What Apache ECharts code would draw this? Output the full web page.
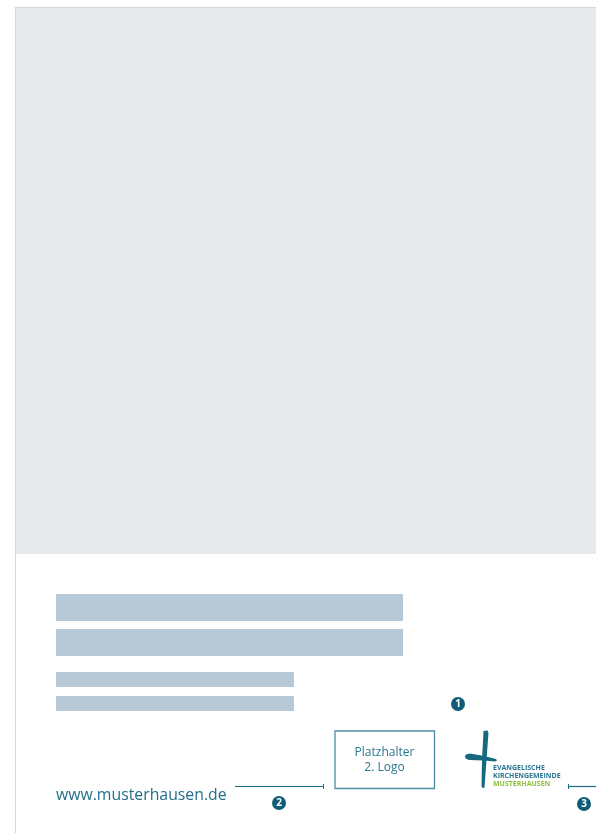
<!DOCTYPE html>
<html>
<head>
<meta charset="utf-8">
<script src="https://cdn.jsdelivr.net/npm/echarts@6/dist/echarts.min.js"></script>
<style>html,body{margin:0;padding:0;background:#fff;}#c{width:596px;height:833px;}</style>
</head>
<body>
<div id="c"></div>
<script>
// Text content of the layout
var urlText = 'www.musterhausen.de';
var placeholderLogo = ['Platzhalter', '2. Logo'];
var logoLines = ['EVANGELISCHE', 'KIRCHENGEMEINDE', 'MUSTERHAUSEN'];
var markerNumbers = ['1', '2', '3'];
var titleBars = ['Titelzeile 1', 'Titelzeile 2', 'Unterzeile 1', 'Unterzeile 2'];

var TEAL = '#1d6c86';
var TEXT_TEAL = '#2a7691';
var BAR = '#b7c9d6';
var GREEN = '#8dbf3e';
var FONT = '"Open Sans", "DejaVu Sans", sans-serif';

var chart = echarts.init(document.getElementById('c'), null, {renderer: 'canvas'});

function marker(num, cx, cy) {
  return {
    type: 'group',
    children: [
      {type: 'circle', shape: {cx: cx, cy: cy, r: 7}, style: {fill: '#0f5d78'}},
      {type: 'text', x: cx, y: cy + 0.5, style: {text: num, fill: '#fff', font: 'bold 10px ' + FONT, align: 'center', verticalAlign: 'middle'}}
    ]
  };
}

var barGeom = [
  [56, 594, 347, 27],
  [56, 629, 347, 27],
  [56, 672, 238, 15],
  [56, 696, 238, 15]
];

var elements = [
  {type: 'rect', shape: {x: 0, y: 0, width: 596, height: 833}, style: {fill: '#ffffff'}},
  {type: 'rect', shape: {x: 16, y: 8, width: 580, height: 546}, style: {fill: '#e8e9eb'}},
  {type: 'line', shape: {x1: 16, y1: 7.5, x2: 596, y2: 7.5}, style: {stroke: '#d6d6d6', lineWidth: 1}},
  {type: 'line', shape: {x1: 15.5, y1: 7, x2: 15.5, y2: 833}, style: {stroke: '#d6d6d6', lineWidth: 1}}
];

titleBars.forEach(function (name, i) {
  var g = barGeom[i];
  elements.push({type: 'rect', shape: {x: g[0], y: g[1], width: g[2], height: g[3]}, style: {fill: BAR}});
});

// URL
elements.push({type: 'text', x: 56, y: 795, style: {text: urlText, fill: '#236f8b', font: '15.8px ' + FONT, align: 'left', verticalAlign: 'middle'}});

// dimension lines
elements.push({type: 'line', shape: {x1: 235, y1: 786.5, x2: 323, y2: 786.5}, style: {stroke: TEAL, lineWidth: 1.2}});
elements.push({type: 'line', shape: {x1: 323.5, y1: 784, x2: 323.5, y2: 789}, style: {stroke: TEAL, lineWidth: 1}});
elements.push({type: 'line', shape: {x1: 568, y1: 786.5, x2: 596, y2: 786.5}, style: {stroke: TEAL, lineWidth: 1.2}});
elements.push({type: 'line', shape: {x1: 568.5, y1: 784, x2: 568.5, y2: 789}, style: {stroke: TEAL, lineWidth: 1}});

// placeholder logo box
elements.push({type: 'rect', shape: {x: 335, y: 731, width: 99.5, height: 57.5}, style: {fill: 'none', stroke: '#4a8ea6', lineWidth: 1.3}});
elements.push({type: 'text', x: 384.5, y: 752.5, style: {text: placeholderLogo[0], fill: TEXT_TEAL, font: '12px ' + FONT, align: 'center', verticalAlign: 'middle'}});
elements.push({type: 'text', x: 384.5, y: 768, style: {text: placeholderLogo[1], fill: TEXT_TEAL, font: '12px ' + FONT, align: 'center', verticalAlign: 'middle'}});

// cross logo
elements.push({type: 'polygon', shape: {points: [[483.5, 731], [487.5, 730.5], [488.5, 733], [486.5, 760], [484.5, 787.5], [482.5, 788], [481.5, 786], [482, 760]]}, style: {fill: '#16697f'}});
elements.push({type: 'polygon', shape: {points: [[466, 754.5], [470, 753.5], [484, 756], [496, 759], [497, 760.5], [495, 761.5], [484, 760.5], [469, 760], [465.5, 758.5], [465, 756]]}, style: {fill: '#16697f'}});

// logo text
var logoColors = ['#2a7691', '#2a7691', GREEN];
logoLines.forEach(function (t, i) {
  elements.push({type: 'text', x: 493, y: 768 + i * 8, style: {text: t, fill: logoColors[i], font: 'bold 7px ' + FONT, align: 'left', verticalAlign: 'middle'}});
});

// markers
elements.push(marker(markerNumbers[0], 458, 704));
elements.push(marker(markerNumbers[1], 279, 803));
elements.push(marker(markerNumbers[2], 584, 804));

chart.setOption({
  animation: false,
  backgroundColor: '#ffffff',
  graphic: {elements: elements}
});
</script>
</body>
</html>
